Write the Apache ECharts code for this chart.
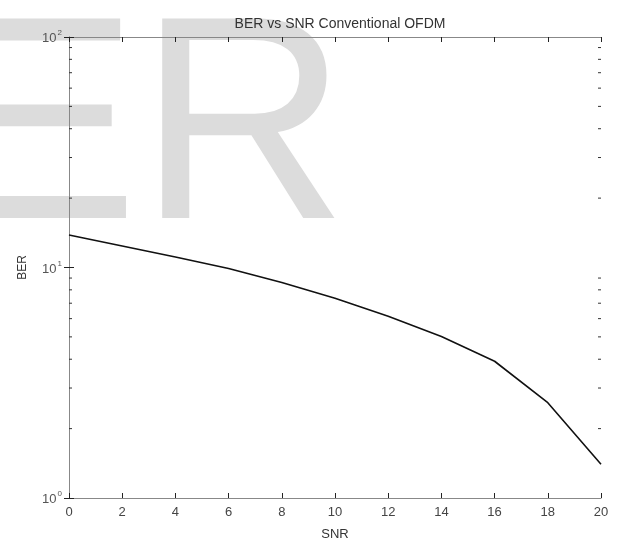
<!DOCTYPE html>
<html>
<head>
<meta charset="utf-8">
<script src="https://cdn.jsdelivr.net/npm/echarts@6/dist/echarts.min.js"></script>
<style>html,body{margin:0;padding:0;background:#fff}#c{width:620px;height:546px}</style>
</head>
<body>
<div id="c"></div>
<script>
var snr = [0, 2, 4, 6, 8, 10, 12, 14, 16, 18, 20];
var ber = [13.84, 12.40, 11.11, 9.90, 8.61, 7.36, 6.14, 5.02, 3.92, 2.59, 1.40];
var xTicks = [0, 2, 4, 6, 8, 10, 12, 14, 16, 18, 20];
var yMajor = [1, 10, 100];
var yMinor = [2, 3, 4, 5, 6, 7, 8, 9, 20, 30, 40, 50, 60, 70, 80, 90];
var titleText = 'BER vs SNR Conventional OFDM';
var watermark = 'ER';

var FONT = 'Liberation Sans, Arial, sans-serif';
var chart = echarts.init(document.getElementById('c'));

function expLabel(v) {
  var e = Math.round(Math.log10(v));
  return '{b|10}{s|' + e + '}';
}

var tickStyle = { show: true, inside: true, length: 5, lineStyle: { color: '#222', width: 1 } };
var lineStyleAxis = { show: true, lineStyle: { color: '#888', width: 1 } };

chart.setOption({
  animation: false,
  backgroundColor: '#fff',
  title: {
    text: titleText,
    left: 335, textAlign: 'center',
    top: 12,
    textStyle: { fontFamily: FONT, fontSize: 14, fontWeight: 'normal', color: '#333' }
  },
  graphic: {
    elements: [{
      type: 'text', z: -100, silent: true,
      x: -55, y: 138,
      style: { text: watermark, fontFamily: FONT, fontSize: 290, fill: '#dcdcdc', verticalAlign: 'middle', align: 'left' }
    }]
  },
  grid: { left: 69, right: 19, top: 37, bottom: 44, show: false },
  xAxis: [{
    type: 'value', min: xTicks[0], max: xTicks[xTicks.length - 1], interval: 2,
    position: 'bottom',
    name: 'SNR', nameLocation: 'middle', nameGap: 30,
    nameTextStyle: { fontFamily: FONT, fontSize: 13, color: '#333' },
    axisLine: lineStyleAxis, axisTick: tickStyle,
    axisLabel: { fontFamily: FONT, fontSize: 13, color: '#444', margin: 8 },
    splitLine: { show: false }
  }, {
    type: 'value', min: xTicks[0], max: xTicks[xTicks.length - 1], interval: 2,
    position: 'top',
    axisLine: lineStyleAxis, axisTick: tickStyle,
    axisLabel: { show: false }, splitLine: { show: false }
  }],
  yAxis: [{
    type: 'log', logBase: 10, min: yMajor[0], max: yMajor[yMajor.length - 1],
    position: 'left',
    name: 'BER', nameLocation: 'middle', nameGap: 40,
    nameTextStyle: { fontFamily: FONT, fontSize: 12, color: '#333' },
    axisLine: lineStyleAxis, axisTick: tickStyle,
    axisLabel: {
      formatter: expLabel, margin: 7,
      rich: {
        b: { fontFamily: FONT, fontSize: 13, color: '#555', lineHeight: 16, verticalAlign: 'bottom' },
        s: { fontFamily: FONT, fontSize: 8, color: '#555', lineHeight: 16, verticalAlign: 'top', padding: [0, 0, 0, 1] }
      }
    },
    splitLine: { show: false }
  }, {
    type: 'log', logBase: 10, min: yMajor[0], max: yMajor[yMajor.length - 1],
    position: 'right',
    axisLine: lineStyleAxis, axisTick: tickStyle,
    axisLabel: { show: false }, splitLine: { show: false }
  }],
  series: [{
    type: 'custom',
    xAxisIndex: 0, yAxisIndex: 0,
    silent: true,
    data: yMinor.map(function (v) { return [0, v]; }),
    renderItem: function (params, api) {
      var v = api.value(1);
      var pl = api.coord([xTicks[0], v]);
      var pr = api.coord([xTicks[xTicks.length - 1], v]);
      var s = { stroke: '#333', lineWidth: 1 };
      return {
        type: 'group',
        children: [
          { type: 'line', shape: { x1: pl[0], y1: pl[1], x2: pl[0] + 3, y2: pl[1] }, style: s },
          { type: 'line', shape: { x1: pr[0] - 3, y1: pr[1], x2: pr[0], y2: pr[1] }, style: s }
        ]
      };
    }
  }, {
    type: 'line',
    xAxisIndex: 0, yAxisIndex: 0,
    data: snr.map(function (x, i) { return [x, ber[i]]; }),
    showSymbol: false, symbol: 'none',
    lineStyle: { color: '#111', width: 1.6 },
    z: 5
  }]
});
</script>
</body>
</html>
